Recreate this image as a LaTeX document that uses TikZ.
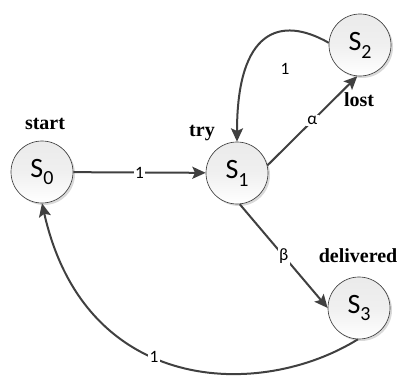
\documentclass[tikz,border=0pt]{standalone}
\usepackage{fontspec}
\setmainfont{Liberation Serif}
\newfontfamily\calib{Carlito}
\usetikzlibrary{arrows.meta,shadows}
\definecolor{edgecol}{HTML}{404040}
\newcommand{\stsub}[1]{\raisebox{-0.28em}{\fontsize{15}{15}\selectfont #1}}
\tikzset{
  state/.style={circle, draw=black!75, line width=0.5pt, minimum size=46.5pt, inner sep=0pt,
    top color=black!8, bottom color=white, middle color=black!6,
    drop shadow={shadow xshift=1.5pt, shadow yshift=-1.5pt, opacity=0.25, fill=black!60},
    font=\calib\fontsize{21}{24}\selectfont},
  conn/.style={draw=edgecol, line width=1.5pt, -{Stealth[length=10pt,width=9pt,inset=2pt]}},
  elabel/.style={fill=white, inner sep=1pt, font=\calib\fontsize{13}{15}\selectfont, text=black},
  nlabel/.style={font=\bfseries\fontsize{15}{17}\selectfont, inner sep=0pt}
}
\begin{document}
\begin{tikzpicture}[x=0.75pt, y=-0.75pt]
\useasboundingbox (0,0) rectangle (400,377);
\node[state] (S0) at (42,172) {S\stsub{0}};
\node[state] (S1) at (237,173) {S\stsub{1}};
\node[state] (S2) at (360,45) {S\stsub{2}};
\node[state] (S3) at (359,308) {S\stsub{3}};
\node[nlabel] (Lstart) at (45,124) {start};
\node[nlabel] (Ltry) at (202,133) {try};
\node[nlabel] (Llost) at (359,100) {lost};
\node[nlabel] (Ldel) at (358,256) {delivered};
\draw[conn] (S0) -- node[elabel] {1} (S1);
\draw[conn] (S1.14) -- node[elabel] {α} (S2.265);
\draw[conn] (S1.-85) -- node[elabel] {β} (S3.west);
\draw[conn] (S2.176) .. controls (280,15) and (237,30) .. (S1.north);
\node[elabel, fill=none] (L21) at (285,69) {1};
\draw[conn] (S3.-92) .. controls (260,400) and (85,395) .. node[elabel, pos=0.57] {1} (S0.south);
\end{tikzpicture}
\end{document}
